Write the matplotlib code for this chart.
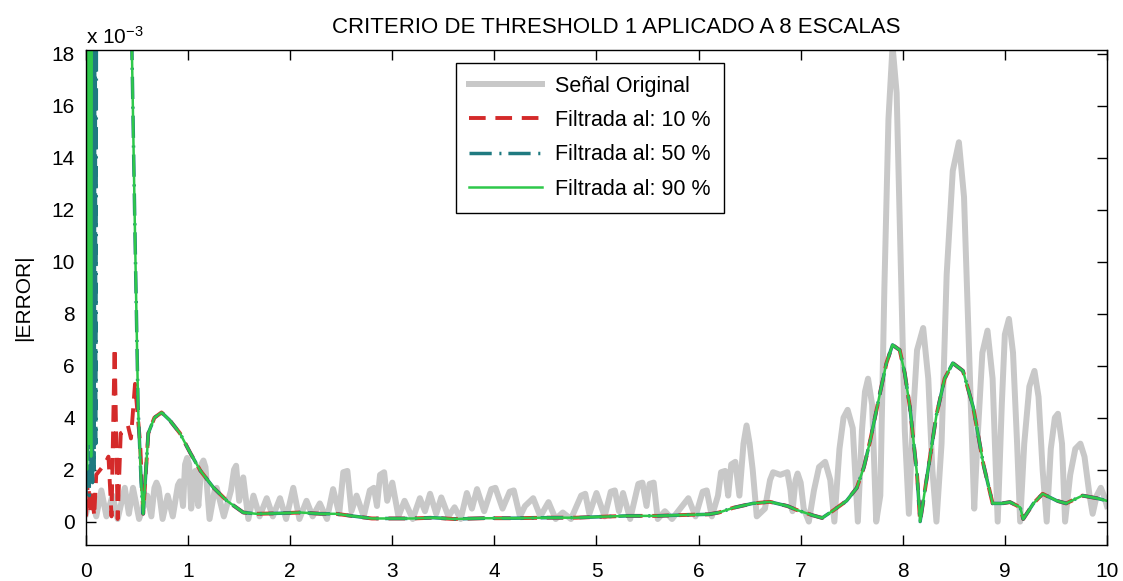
import matplotlib
matplotlib.use("Agg")
import matplotlib.pyplot as plt

plt.rcParams["font.family"] = ["Liberation Sans", "DejaVu Sans"]
plt.rcParams["mathtext.default"] = "regular"
plt.rcParams["lines.scale_dashes"] = False

# |error| values, in units of 1e-3
orig_x = [0.00, 0.05, 0.10, 0.15, 0.20, 0.26, 0.31, 0.38, 0.42, 0.46, 0.52, 0.60,
          0.64, 0.67, 0.69, 0.71, 0.75, 0.80, 0.85, 0.90, 0.92, 0.95, 0.97, 0.99,
          1.01, 1.03, 1.07, 1.10, 1.13, 1.15, 1.17, 1.21, 1.26, 1.28, 1.35, 1.42,
          1.45, 1.47, 1.50, 1.54, 1.59, 1.64, 1.70, 1.77, 1.83, 1.90, 1.96, 2.03,
          2.09, 2.16, 2.22, 2.29, 2.36, 2.42, 2.48, 2.52, 2.56, 2.60, 2.65, 2.72,
          2.78, 2.82, 2.85, 2.88, 2.92, 2.95, 3.00, 3.06, 3.12, 3.20, 3.27, 3.32,
          3.37, 3.43, 3.48, 3.55, 3.61, 3.67, 3.73, 3.78, 3.83, 3.90, 3.97, 4.01,
          4.08, 4.15, 4.19, 4.25, 4.30, 4.38, 4.45, 4.53, 4.60, 4.67, 4.75, 4.85,
          4.89, 4.93, 5.00, 5.08, 5.14, 5.18, 5.22, 5.26, 5.33, 5.41, 5.45, 5.49,
          5.52, 5.56, 5.60, 5.67, 5.74, 5.82, 5.90, 5.97, 6.04, 6.08, 6.13, 6.19,
          6.22, 6.26, 6.29, 6.32, 6.36, 6.40, 6.44, 6.47, 6.50, 6.53, 6.57, 6.65,
          6.70, 6.73, 6.80, 6.87, 6.90, 6.92, 6.95, 6.97, 7.00, 7.03, 7.08, 7.13,
          7.18, 7.24, 7.29, 7.33, 7.38, 7.42, 7.46, 7.51, 7.56, 7.60, 7.63, 7.66,
          7.70, 7.74, 7.78, 7.82, 7.86, 7.90, 7.94, 7.98, 8.02, 8.06, 8.10, 8.14,
          8.20, 8.25, 8.29, 8.33, 8.38, 8.43, 8.49, 8.55, 8.60, 8.65, 8.70, 8.73,
          8.78, 8.83, 8.88, 8.93, 8.97, 9.00, 9.04, 9.08, 9.12, 9.15, 9.19, 9.24,
          9.29, 9.33, 9.37, 9.41, 9.45, 9.49, 9.52, 9.56, 9.59, 9.64, 9.69, 9.74,
          9.78, 9.83, 9.86, 9.90, 9.94, 9.97, 10.00]
orig_y = [0.3, 1.0, 0.2, 1.2, 0.2, 1.0, 0.1, 1.3, 0.3, 1.3, 0.1, 1.0,
          0.2, 1.3, 1.5, 1.3, 0.1, 1.0, 0.2, 1.4, 1.55, 0.6, 2.2, 2.45,
          2.2, 0.5, 1.95, 0.6, 2.2, 2.35, 2.1, 0.1, 1.2, 1.3, 0.2, 1.2,
          2.0, 2.15, 0.8, 1.7, 0.1, 1.0, 0.2, 0.9, 0.2, 0.9, 0.1, 1.3,
          0.1, 0.8, 0.2, 0.7, 0.1, 1.25, 0.3, 1.9, 1.95, 0.4, 1.0, 0.2,
          1.2, 1.3, 0.6, 1.8, 1.9, 0.8, 1.5, 0.2, 0.8, 0.1, 0.9, 0.4,
          1.07, 0.3, 0.93, 0.2, 0.55, 0.1, 1.1, 0.5, 1.25, 0.4, 1.25, 1.3,
          0.5, 1.15, 1.2, 0.2, 0.6, 0.9, 0.2, 0.75, 0.1, 0.35, 0.1, 1.0,
          1.07, 0.3, 1.1, 0.2, 1.15, 1.2, 0.4, 1.1, 0.1, 1.45, 1.5, 0.6,
          1.45, 1.5, 0.1, 0.4, 0.1, 0.5, 0.9, 0.2, 1.15, 1.2, 0.2, 1.0,
          1.9, 1.95, 1.0, 2.2, 2.3, 1.0, 3.0, 3.7, 3.0, 2.0, 0.2, 0.5,
          1.6, 1.9, 1.8, 1.9, 1.2, 0.4, 1.6, 1.85, 1.5, 0.5, 0.0, 1.2,
          2.1, 2.3, 1.6, 0.0, 2.8, 4.0, 4.3, 3.6, 0.0, 3.5, 5.0, 5.5,
          4.5, 0.0, 1.0, 9.0, 15.5, 18.3, 16.5, 10.0, 3.5, 0.3, 4.0, 6.6,
          7.45, 5.5, 2.0, 0.0, 3.0, 9.5, 13.5, 14.6, 12.5, 6.5, 0.5, 3.0,
          6.5, 7.35, 5.5, 0.0, 4.5, 7.2, 7.8, 6.5, 3.0, 0.0, 3.0, 5.2,
          5.8, 4.8, 2.0, 0.0, 2.8, 4.0, 4.15, 3.0, 0.0, 1.8, 2.8, 3.0,
          2.5, 1.0, 0.3, 1.0, 1.3, 1.0, 0.6]

# shared part of the three filtered errors (x >= 0.56)
tail_x = [0.56, 0.61, 0.67, 0.74, 0.82, 0.92, 1.02, 1.12, 1.25, 1.38, 1.54, 1.67,
          1.90, 2.10, 2.30, 2.45, 2.60, 2.80, 3.00, 3.20, 3.40, 3.60, 3.90, 4.20,
          4.50, 4.80, 5.00, 5.30, 5.60, 5.90, 6.10, 6.20, 6.34, 6.53, 6.70, 6.87,
          6.96, 7.12, 7.21, 7.32, 7.45, 7.55, 7.62, 7.68, 7.78, 7.84, 7.90, 7.97,
          8.02, 8.07, 8.14, 8.17, 8.24, 8.33, 8.41, 8.49, 8.59, 8.69, 8.79, 8.88,
          8.97, 9.05, 9.15, 9.18, 9.28, 9.37, 9.51, 9.60, 9.76, 9.90, 10.00]
tail_y = [0.3, 3.4, 4.0, 4.2, 3.9, 3.4, 2.65, 1.96, 1.3, 0.8, 0.35, 0.3,
          0.32, 0.35, 0.3, 0.3, 0.22, 0.12, 0.12, 0.12, 0.15, 0.1, 0.13, 0.13,
          0.15, 0.15, 0.18, 0.22, 0.22, 0.26, 0.28, 0.35, 0.53, 0.7, 0.76, 0.6,
          0.45, 0.24, 0.14, 0.43, 0.8, 1.3, 2.1, 3.1, 5.0, 6.1, 6.8, 6.6,
          5.7, 4.4, 1.8, 0.0, 1.8, 4.1, 5.5, 6.1, 5.8, 4.4, 2.2, 0.7,
          0.7, 0.75, 0.55, 0.1, 0.7, 1.07, 0.8, 0.7, 1.0, 0.9, 0.8]

# start of each filtered error, before x = 0.56
f10_x = [0.00, 0.02, 0.04, 0.06, 0.08, 0.10, 0.14, 0.18, 0.22, 0.25, 0.28, 0.31,
         0.34, 0.38, 0.41, 0.44, 0.48, 0.53]
f10_y = [0.2, 1.7, 0.3, 1.2, 0.2, 1.8, 2.0, 2.2, 2.5, 0.2, 6.7, 0.1,
         3.4, 3.5, 3.7, 3.2, 5.3, 3.0]

f50_x = [0.000, 0.008, 0.016, 0.024, 0.032, 0.040, 0.048, 0.056, 0.064, 0.072,
         0.080, 0.088, 0.096, 0.104, 0.112, 0.440, 0.450, 0.480, 0.510, 0.540]
f50_y = [1.0, 30.0, 1.5, 30.0, 1.0, 30.0, 2.0, 30.0, 1.5, 28.0,
         2.0, 25.0, 3.0, 25.0, 30.0, 30.0, 18.0, 11.0, 4.4, 1.5]

f90_x = [0.000, 0.010, 0.020, 0.030, 0.040, 0.050, 0.060, 0.440, 0.450, 0.480,
         0.510, 0.540]
f90_y = [40.0, 2.0, 35.0, 3.0, 30.0, 2.5, 30.0, 30.0, 18.0, 11.0,
         4.4, 1.5]

labels = ["Señal Original", "Filtrada al: 10 %", "Filtrada al: 50 %",
          "Filtrada al: 90 %"]

fig = plt.figure(figsize=(11.23, 5.81), dpi=100)
ax = fig.add_axes([0.0766, 0.062, 0.9091, 0.852])

ax.plot(orig_x, orig_y, color="#c8c8c8", lw=4.3, label=labels[0])
ax.plot(f10_x + tail_x, f10_y + tail_y, color="#d42a2a", lw=2.8,
        dashes=(12, 7), label=labels[1])
ax.plot(f50_x + tail_x, f50_y + tail_y, color="#1f7a80", lw=2.5,
        dashes=(16, 5.5, 1.5, 5), label=labels[2])
ax.plot(f90_x + tail_x, f90_y + tail_y, color="#2ec84a", lw=1.8,
        label=labels[3])

ax.set_xlim(0, 10)
ax.set_ylim(-0.9, 18.15)
ax.set_xticks(range(0, 11))
ax.set_yticks(range(0, 19, 2))
ax.tick_params(direction="in", length=7, width=1, top=True, right=True,
               labelsize=15, pad=8)
ax.tick_params(axis="x", pad=12)
for sp in ax.spines.values():
    sp.set_linewidth(1.0)

ax.text(0.0, 1.004, "x 10$^{-3}$", transform=ax.transAxes, fontsize=15,
        ha="left", va="bottom")
ax.set_title("CRITERIO DE THRESHOLD 1 APLICADO A 8 ESCALAS", fontsize=16,
             pad=12, x=0.519)
ax.set_ylabel("|ERROR|", fontsize=15)
ax.yaxis.set_label_coords(-0.052, 0.5)

leg = ax.legend(loc="upper left", bbox_to_anchor=(0.352, 0.996), fontsize=15.5,
                handlelength=3.4, handletextpad=0.6, labelspacing=0.62,
                borderpad=0.6, fancybox=False, framealpha=1.0,
                edgecolor="black")
leg.get_frame().set_linewidth(1.0)

fig.savefig("out.png", dpi=100)
